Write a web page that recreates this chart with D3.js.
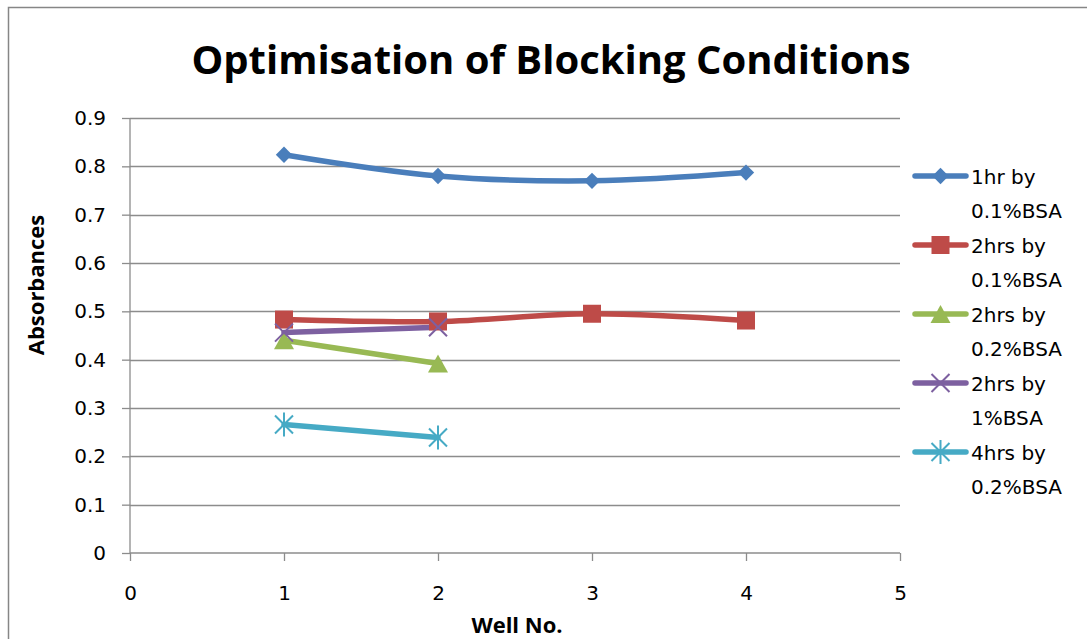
<!DOCTYPE html>
<html lang="en">
<head>
    <meta charset="UTF-8">
    <title>Optimisation of Blocking Conditions</title>
    <script src="https://d3js.org/d3.v7.min.js"></script>
    <style>
        body { margin: 0; background: #fff; overflow: hidden; }
        .tick text { font-family: "DejaVu Sans", sans-serif; font-size: 20px; fill: #000; }
        .legend text { font-family: "DejaVu Sans", sans-serif; font-size: 20px; fill: #000; }
    </style>
</head>
<body>
    <script>
        // chart data
        const wells = [1, 2, 3, 4];
        const seriesNames = ["1hr by|0.1%BSA", "2hrs by|0.1%BSA", "2hrs by|0.2%BSA", "2hrs by|1%BSA", "4hrs by|0.2%BSA"];
        const blue1hr = [0.824, 0.780, 0.770, 0.787];
        const red2hr = [0.483, 0.479, 0.495, 0.481];
        const green2hr = [0.440, 0.392];
        const purple2hr = [0.456, 0.467];
        const cyan4hr = [0.266, 0.239];
        const xTicks = [0, 1, 2, 3, 4, 5];
        const yTicks = [0, 0.1, 0.2, 0.3, 0.4, 0.5, 0.6, 0.7, 0.8, 0.9];

        const colors = ["#4A7EBB", "#BE4B48", "#98B954", "#7D60A0", "#46AAC5"];
        const symbols = ["diamond", "square", "triangle", "x", "star"];
        const allValues = [blue1hr, red2hr, green2hr, purple2hr, cyan4hr];

        const width = 1087, height = 639;
        const svg = d3.select("body").append("svg")
            .attr("width", width)
            .attr("height", height);

        // outer chart border
        svg.append("rect")
            .attr("x", 8.5).attr("y", 7.5)
            .attr("width", 1200).attr("height", 800)
            .attr("fill", "none").attr("stroke", "#868686").attr("stroke-width", 1.5);

        const plotL = 130, plotR = 900, plotT = 118, plotB = 553;
        const x = d3.scaleLinear().domain([0, 5]).range([plotL, plotR]);
        const y = d3.scaleLinear().domain([0, 0.9]).range([plotB, plotT]);

        // gridlines
        svg.append("g")
            .selectAll("line")
            .data(yTicks.slice(1))
            .join("line")
            .attr("x1", plotL).attr("x2", plotR)
            .attr("y1", d => Math.round(y(d)) + 0.5).attr("y2", d => Math.round(y(d)) + 0.5)
            .attr("stroke", "#8c8c8c").attr("stroke-width", 1.3);

        // axes
        const yAxis = svg.append("g")
            .attr("transform", `translate(${plotL},0)`)
            .call(d3.axisLeft(y).tickValues(yTicks).tickSize(8).tickPadding(16)
                .tickFormat(d => d === 0 ? "0" : d3.format(".1f")(d)));
        const xAxis = svg.append("g")
            .attr("transform", `translate(0,${plotB})`)
            .call(d3.axisBottom(x).tickValues(xTicks).tickSize(8).tickPadding(25)
                .tickFormat(d3.format("d")));
        [yAxis, xAxis].forEach(a => {
            a.select(".domain").attr("stroke", "#8c8c8c").attr("stroke-width", 1.3);
            a.selectAll(".tick line").attr("stroke", "#8c8c8c").attr("stroke-width", 1.3);
        });
        yAxis.select(".domain").attr("d", `M0,${plotT}V${plotB}`);
        xAxis.select(".domain").attr("d", `M${plotL},0H${plotR}`);

        // titles
        svg.append("text")
            .attr("x", 551).attr("y", 74)
            .attr("text-anchor", "middle")
            .style("font-family", "'Open Sans', sans-serif")
            .style("font-weight", "bold")
            .style("font-size", "40px")
            .text("Optimisation of Blocking Conditions");
        svg.append("text")
            .attr("transform", "translate(44,285) rotate(-90)")
            .attr("text-anchor", "middle")
            .style("font-family", "'Open Sans', sans-serif")
            .style("font-weight", "bold")
            .style("font-size", "22px")
            .text("Absorbances");
        svg.append("text")
            .attr("x", 517).attr("y", 633)
            .attr("text-anchor", "middle")
            .style("font-family", "'Open Sans', sans-serif")
            .style("font-weight", "bold")
            .style("font-size", "22px")
            .text("Well No.");

        // marker drawing
        function drawMarker(g, type, color, cx, cy) {
            if (type === "diamond") {
                g.append("path").attr("d", d3.symbol(d3.symbolDiamond2, 170)()).attr("fill", color)
                    .attr("transform", `translate(${cx},${cy})`);
            } else if (type === "square") {
                g.append("rect").attr("x", cx - 9).attr("y", cy - 9).attr("width", 18).attr("height", 18)
                    .attr("fill", color);
            } else if (type === "triangle") {
                g.append("path").attr("d", `M${cx},${cy - 9}L${cx + 10},${cy + 9}L${cx - 10},${cy + 9}Z`)
                    .attr("fill", color);
            } else if (type === "x") {
                g.append("path").attr("d", `M${cx - 9},${cy - 9}L${cx + 9},${cy + 9}M${cx - 9},${cy + 9}L${cx + 9},${cy - 9}`)
                    .attr("stroke", color).attr("stroke-width", 2);
            } else if (type === "star") {
                g.append("path").attr("d", `M${cx - 9},${cy - 9}L${cx + 9},${cy + 9}M${cx - 9},${cy + 9}L${cx + 9},${cy - 9}M${cx},${cy - 12}V${cy + 12}`)
                    .attr("stroke", color).attr("stroke-width", 2);
            }
        }

        const line = d3.line()
            .x((d, i) => x(wells[i]))
            .y(d => y(d))
            .curve(d3.curveCatmullRom.alpha(0));

        const plot = svg.append("g");
        allValues.forEach((vals, s) => {
            plot.append("path")
                .datum(vals)
                .attr("d", line)
                .attr("fill", "none")
                .attr("stroke", colors[s])
                .attr("stroke-width", 5.5)
                .attr("stroke-linejoin", "round")
                .attr("stroke-linecap", "round");
        });
        allValues.forEach((vals, s) => {
            vals.forEach((v, i) => drawMarker(plot, symbols[s], colors[s], x(wells[i]), y(v)));
        });

        // legend
        const legend = svg.append("g").attr("class", "legend");
        seriesNames.forEach((name, s) => {
            const ly = 176 + s * 69;
            legend.append("line")
                .attr("x1", 915).attr("x2", 966).attr("y1", ly).attr("y2", ly)
                .attr("stroke", colors[s]).attr("stroke-width", 5.5).attr("stroke-linecap", "round");
            drawMarker(legend, symbols[s], colors[s], 940.5, ly);
            name.split("|").forEach((part, k) => {
                legend.append("text")
                    .attr("x", 971).attr("y", ly + 8 + k * 34)
                    .text(part);
            });
        });
    </script>
</body>
</html>
